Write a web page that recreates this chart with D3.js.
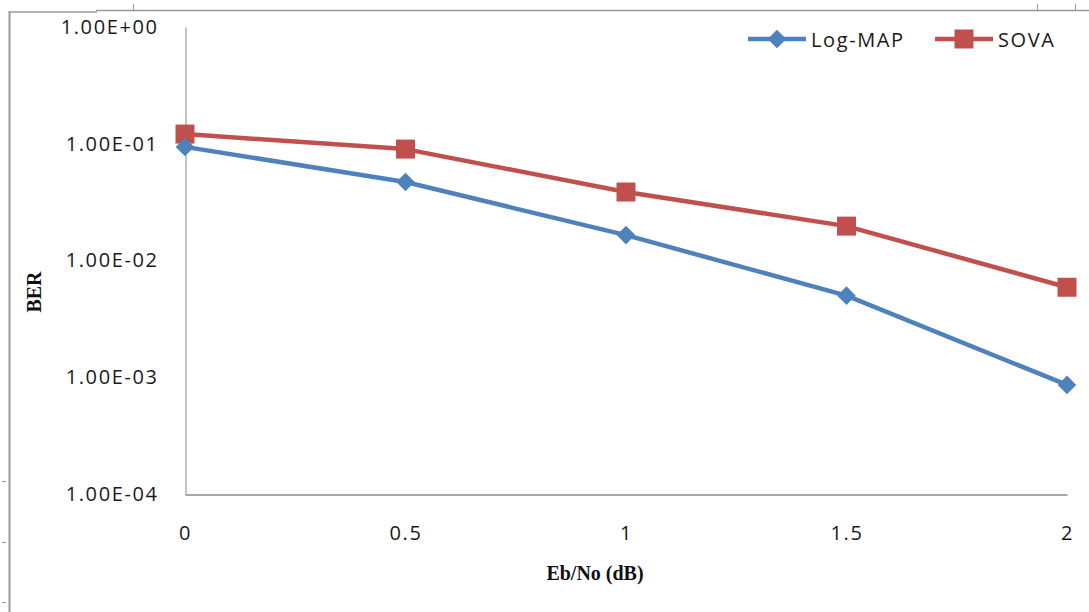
<!DOCTYPE html>
<html>
<head>
<meta charset="utf-8">
<script src="https://cdn.jsdelivr.net/npm/d3@7"></script>
<style>
  html, body { margin: 0; padding: 0; background: #fff; }
  svg { display: block; }
</style>
</head>
<body>
<svg id="chart" width="1089" height="612"></svg>
<script>
// Eb/No values (dB) and bit error rates for the two decoders
const ebno = [0, 0.5, 1, 1.5, 2];
const logMap = [0.094, 0.047, 0.0165, 0.0050, 0.00086];
const sova = [0.121, 0.090, 0.0386, 0.0197, 0.0059];
const yTicks = [1, 1e-1, 1e-2, 1e-3, 1e-4];
const yTickLabels = ["1.00E+00", "1.00E-01", "1.00E-02", "1.00E-03", "1.00E-04"];
const xTickLabels = ["0", "0.5", "1", "1.5", "2"];
const seriesNames = ["Log-MAP", "SOVA"];

const svg = d3.select("#chart");
const plotLeft = 185, plotRight = 1067, plotTop = 27, plotBottom = 494;
const blue = "#4F81BD", red = "#C0504D";
const tickFont = "'Open Sans', sans-serif";
const tickSize = 20, tickSpacing = 1.6;

const x = d3.scaleLinear().domain([0, 2]).range([plotLeft, plotRight]);
const y = d3.scaleLog().domain([1e-4, 1]).range([plotBottom, plotTop]);

// outer frame of the embedded chart object
const frame = svg.append("g").attr("stroke", "#9a9a9a").attr("fill", "none");
frame.append("line").attr("x1", 9.5).attr("x2", 9.5).attr("y1", 11).attr("y2", 612).attr("stroke-width", 2);
frame.append("line").attr("x1", 9).attr("x2", 97).attr("y1", 12).attr("y2", 12).attr("stroke-width", 1.5);
frame.append("line").attr("x1", 96).attr("x2", 1089).attr("y1", 10.5).attr("y2", 10.5).attr("stroke-width", 1.5);
[133, 1037, 1075].forEach(px => {
  frame.append("line").attr("x1", px + 0.5).attr("x2", px + 0.5).attr("y1", 4).attr("y2", 10).attr("stroke-width", 1);
});
[481, 542, 602].forEach(py => {
  frame.append("line").attr("x1", 2).attr("x2", 6).attr("y1", py + 0.5).attr("y2", py + 0.5).attr("stroke-width", 1);
});

// y axis (log)
const yAxis = d3.axisLeft(y).tickValues(yTicks).tickFormat((d, i) => yTickLabels[i]).tickSize(0).tickPadding(27);
const gy = svg.append("g").attr("transform", `translate(${plotLeft + 0.5},0)`).call(yAxis);
gy.select(".domain").attr("stroke", "#888").attr("stroke-width", 1);
gy.selectAll("text").attr("font-family", tickFont).attr("font-size", tickSize)
  .attr("letter-spacing", tickSpacing).attr("fill", "#1a1a1a");

// x axis
const xAxis = d3.axisBottom(x).tickValues(ebno).tickFormat((d, i) => xTickLabels[i]).tickSize(0).tickPadding(31);
const gx = svg.append("g").attr("transform", `translate(0,${plotBottom + 0.5})`).call(xAxis);
gx.select(".domain").attr("stroke", "#888").attr("stroke-width", 1.5);
gx.selectAll("text").attr("font-family", tickFont).attr("font-size", tickSize)
  .attr("letter-spacing", tickSpacing).attr("fill", "#1a1a1a");

// axis titles
svg.append("text").attr("x", 595).attr("y", 580).attr("text-anchor", "middle")
  .attr("font-family", "'Liberation Serif', serif").attr("font-weight", "bold").attr("font-size", 20)
  .attr("fill", "#111").text("Eb/No (dB)");
svg.append("text").attr("transform", "translate(41,292) rotate(-90)").attr("text-anchor", "middle")
  .attr("font-family", "'Liberation Serif', serif").attr("font-weight", "bold").attr("font-size", 20)
  .attr("fill", "#111").text("BER");

// series
const line = d3.line().x((d, i) => x(ebno[i])).y(d => y(d));
const diamond = d3.symbol().type(d3.symbolDiamond2).size(220);
const square = d3.symbol().type(d3.symbolSquare).size(361);

function drawSeries(values, color, sym) {
  svg.append("path").datum(values).attr("d", line).attr("fill", "none")
    .attr("stroke", color).attr("stroke-width", 4.5).attr("stroke-linejoin", "round");
  svg.append("g").selectAll("path").data(values).join("path")
    .attr("transform", (d, i) => `translate(${x(ebno[i])},${y(d)})`)
    .attr("d", sym).attr("fill", color);
}
drawSeries(sova, red, square);
drawSeries(logMap, blue, diamond);

// legend
const legend = [
  { name: seriesNames[0], color: blue, sym: diamond, x0: 748 },
  { name: seriesNames[1], color: red, sym: square, x0: 935 }
];
legend.forEach(l => {
  const g = svg.append("g").attr("transform", `translate(${l.x0},39)`);
  g.append("line").attr("x1", 0).attr("x2", 58).attr("stroke", l.color).attr("stroke-width", 4.5);
  g.append("path").attr("transform", "translate(29,0)").attr("d", l.sym).attr("fill", l.color);
  g.append("text").attr("x", 63).attr("y", 7.5).attr("font-family", tickFont).attr("font-size", tickSize)
    .attr("letter-spacing", tickSpacing).attr("fill", "#1a1a1a").text(l.name);
});
</script>
</body>
</html>
